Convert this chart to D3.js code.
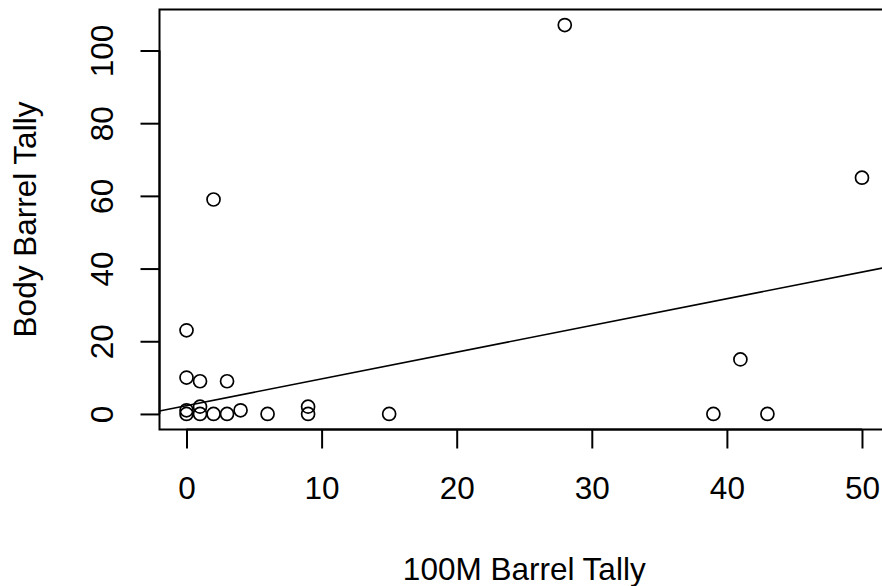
<!DOCTYPE html>
<html>
<head>
<meta charset="utf-8">
<script src="https://cdn.jsdelivr.net/npm/d3@7"></script>
<style>
html,body{margin:0;padding:0;background:#fff;}
svg{display:block;}
text{font-family:"Liberation Sans",Arial,sans-serif;fill:#000;}
</style>
</head>
<body>
<svg id="chart" width="882" height="586"></svg>
<script>
// Data
const xValues = [28, 50, 2, 0, 0, 1, 3, 41, 39, 43, 15, 9, 9, 6, 4, 3, 2, 1, 1, 0, 0];
const yValues = [107, 65, 59, 23, 10, 9, 9, 15, 0, 0, 0, 2, 0, 0, 1, 0, 0, 2, 0, 0, 1];
const xTicks = [0, 10, 20, 30, 40, 50];
const yTicks = [0, 20, 40, 60, 80, 100];
const fitIntercept = 2.3;
const fitSlope = 0.735;
const xLabel = "100M Barrel Tally";
const yLabel = "Body Barrel Tally";

const svg = d3.select("#chart");
const mLeft = 159.5, mRight = 889, mTop = 9.5, mBottom = 429.5;

const xMin = d3.min(xValues), xMax = d3.max(xValues);
const yMin = d3.min(yValues), yMax = d3.max(yValues);
const xPad = (xMax - xMin) * 0.04, yPad = (yMax - yMin) * 0.04;

const x = d3.scaleLinear().domain([xMin - xPad, xMax + xPad]).range([mLeft, mRight]);
const y = d3.scaleLinear().domain([yMin - yPad, yMax + yPad]).range([mBottom, mTop]);

const fs = 31.5;

// Regression line (clipped to plot region)
svg.append("clipPath").attr("id","clip").append("rect")
  .attr("x", mLeft).attr("y", mTop).attr("width", mRight-mLeft).attr("height", mBottom-mTop);
const xd = x.domain();
svg.append("line")
  .attr("clip-path","url(#clip)")
  .attr("x1", x(xd[0])).attr("y1", y(fitIntercept + fitSlope*xd[0]))
  .attr("x2", x(xd[1])).attr("y2", y(fitIntercept + fitSlope*xd[1]))
  .attr("stroke","#000").attr("stroke-width",1.6);

// Points
svg.append("g").selectAll("circle").data(xValues.map((v,i)=>[v,yValues[i]]))
  .join("circle")
  .attr("cx", d=>x(d[0])).attr("cy", d=>y(d[1])).attr("r", 6.5)
  .attr("fill","none").attr("stroke","#000").attr("stroke-width",1.7);

// Box
svg.append("rect").attr("x", mLeft).attr("y", mTop)
  .attr("width", mRight-mLeft).attr("height", mBottom-mTop)
  .attr("fill","none").attr("stroke","#000").attr("stroke-width",2);

// X axis
const xAxis = d3.axisBottom(x).tickValues(xTicks).tickSize(19).tickPadding(28).tickFormat(d3.format("d"));
const gx = svg.append("g").attr("transform",`translate(0,${mBottom})`).call(xAxis);
gx.select(".domain").attr("stroke","#000").attr("stroke-width",2)
  .attr("d", `M${x(xTicks[0])},0H${x(xTicks[xTicks.length-1])}`);
gx.selectAll(".tick line").attr("stroke","#000").attr("stroke-width",2);
gx.selectAll(".tick text").attr("font-size",fs).attr("font-family","Liberation Sans, Arial, sans-serif").attr("fill","#000");

// Y axis
const yAxis = d3.axisLeft(y).tickValues(yTicks).tickSize(19).tickFormat(d3.format("d"));
const gy = svg.append("g").attr("transform",`translate(${mLeft},0)`).call(yAxis);
gy.select(".domain").attr("stroke","#000").attr("stroke-width",2)
  .attr("d", `M0,${y(yTicks[0])}V${y(yTicks[yTicks.length-1])}`);
gy.selectAll(".tick line").attr("stroke","#000").attr("stroke-width",2);
gy.selectAll(".tick text")
  .attr("font-size",fs).attr("font-family","Liberation Sans, Arial, sans-serif").attr("fill","#000")
  .attr("x",null).attr("dy",null)
  .attr("text-anchor","middle")
  .attr("transform","translate(-47,0) rotate(-90)");

// Axis titles
svg.append("text").attr("x",(mLeft+mRight)/2).attr("y",580)
  .attr("text-anchor","middle").attr("font-size",fs).text(xLabel);
svg.append("text").attr("transform",`translate(36,${(mTop+mBottom)/2}) rotate(-90)`)
  .attr("text-anchor","middle").attr("font-size",fs).text(yLabel);
</script>
</body>
</html>
